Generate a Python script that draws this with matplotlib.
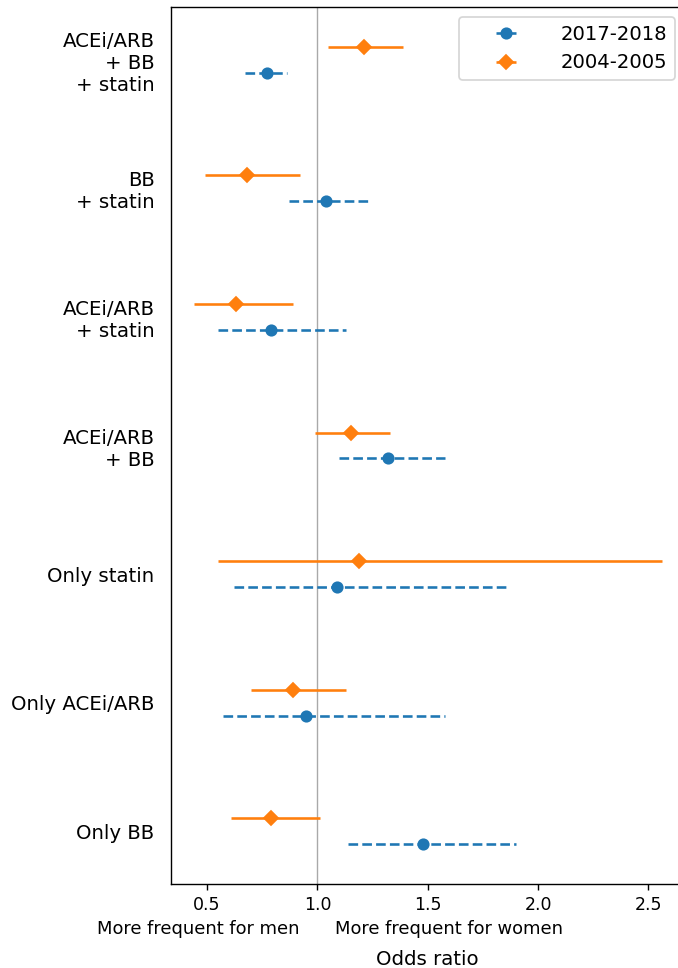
import matplotlib.pyplot as plt
from matplotlib.transforms import blended_transform_factory

categories = ['ACEi/ARB\n+ BB\n+ statin', 'BB\n+ statin', 'ACEi/ARB\n+ statin',
              'ACEi/ARB\n+ BB', 'Only statin', 'Only ACEi/ARB', 'Only BB']

# 2017-2018
or_new = [0.77, 1.04, 0.79, 1.32, 1.09, 0.95, 1.48]
lo_new = [0.67, 0.87, 0.55, 1.10, 0.62, 0.57, 1.14]
hi_new = [0.86, 1.24, 1.13, 1.58, 1.87, 1.58, 1.90]

# 2004-2005
or_old = [1.21, 0.68, 0.63, 1.15, 1.19, 0.89, 0.79]
lo_old = [1.05, 0.49, 0.44, 0.99, 0.55, 0.70, 0.61]
hi_old = [1.39, 0.92, 0.89, 1.33, 2.56, 1.13, 1.01]

n = len(categories)
ypos = [n - 1 - i for i in range(n)]

fig = plt.figure(figsize=(6.78 / 1.25, 9.68 / 1.25), dpi=125)
ax = fig.add_axes([170.5 / 678, 84 / 968, 514.5 / 678, 877 / 968])

ax.axvline(1, color='darkgrey', linewidth=0.8, zorder=0)

err_new = [[o - l for o, l in zip(or_new, lo_new)], [h - o for o, h in zip(or_new, hi_new)]]
err_old = [[o - l for o, l in zip(or_old, lo_old)], [h - o for o, h in zip(or_old, hi_old)]]

eb = ax.errorbar(or_new, [y - 0.1 for y in ypos], xerr=err_new, fmt='o', color='C0',
                 label='2017-2018')
eb[2][0].set_linestyle('--')
ax.errorbar(or_old, [y + 0.1 for y in ypos], xerr=err_old, fmt='D', color='C1',
            label='2004-2005')

ax.set_yticks(ypos)
ax.set_yticklabels(categories, ha='right', fontsize=11.4)
ax.tick_params(axis='y', length=0, pad=9.2)
ax.legend(loc='upper right', fontsize=11.3, handlelength=4)

tr = blended_transform_factory(ax.transData, ax.transAxes)
ax.text(0.92, -0.051, 'More frequent for men', transform=tr, ha='right', va='center',
        fontsize=10.3)
ax.text(1.08, -0.051, 'More frequent for women', transform=tr, ha='left', va='center',
        fontsize=10.3)
ax.set_xlabel('Odds ratio', fontsize=11.4, labelpad=20.5)

fig.savefig('out.png')
